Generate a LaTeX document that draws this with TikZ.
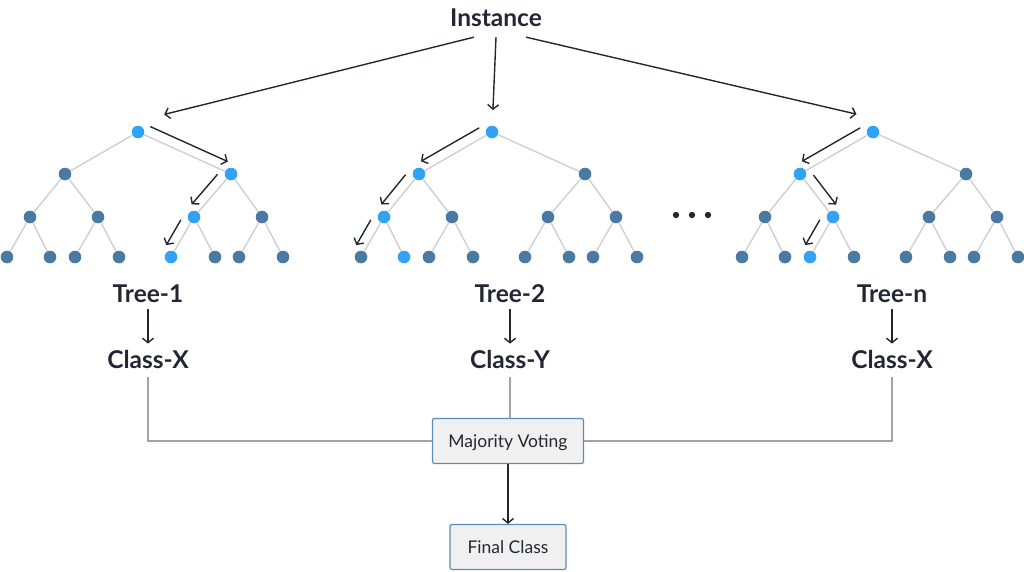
\documentclass[tikz,border=0pt]{standalone}
\usepackage{fontspec}
\setmainfont{Lato}
\usetikzlibrary{arrows.meta,calc,positioning}

\definecolor{hotblue}{HTML}{31A2F6}
\definecolor{nodeblue}{HTML}{4A79A4}
\definecolor{branchgray}{HTML}{CFCFCF}
\definecolor{ink}{HTML}{222733}
\definecolor{wiregray}{HTML}{A0A4A8}
\definecolor{frameblue}{HTML}{5B8DB8}
\definecolor{paper}{HTML}{F0F0F0}

\begin{document}
\begin{tikzpicture}[x=1pt, y=-1pt, node distance=65pt, on grid,
    >={Straight Barb[length=4.5pt,width=11pt]},
    dot/.style={circle, fill=nodeblue, inner sep=0pt, minimum size=12.6pt},
    hot/.style={fill=hotblue},
    % the nodes on the path of each tree
    hot 1r/.style=hot, hot 1b/.style=hot, hot 1ba/.style=hot, hot 1baa/.style=hot,
    hot 2r/.style=hot, hot 2a/.style=hot, hot 2aa/.style=hot, hot 2aab/.style=hot,
    hot 3r/.style=hot, hot 3a/.style=hot, hot 3ab/.style=hot, hot 3aba/.style=hot,
    branch/.style={draw=branchgray, line width=1.4pt},
    walk/.style={->, draw=ink, line width=1.4pt},
    wire/.style={draw=wiregray, line width=1.3pt},
    title/.style={font=\fontsize{24.5}{28}\selectfont\bfseries, text=ink, inner xsep=0pt, inner ysep=6pt},
    vote/.style={draw=frameblue, fill=paper, line width=1.2pt, rounded corners=2pt,
        font=\fontsize{17.5}{20}\selectfont, text=ink, minimum height=45pt,
        inner xsep=0pt, text height=15.6pt, text depth=3pt}]
    \useasboundingbox (0,0) rectangle (1024,571);

    % three trees
    \foreach \t/\x in {1/138, 2/492, 3/873} {
        \foreach \n/\dx/\y in {r/0/132, a/-73/174, b/93/174,
                aa/-108/217, ab/-40/217, ba/56/217, bb/124/217,
                aaa/-131/257, aab/-88/257, aba/-63/257, abb/-19/257,
                baa/33/257, bab/77/257, bba/101/257, bbb/145/257}
            \node[dot, hot \t\n/.try] (\t\n) at (\x+\dx, \y) {};
        \foreach \p/\c in {r/a, r/b, a/aa, a/ab, b/ba, b/bb, aa/aaa, aa/aab,
                ab/aba, ab/abb, ba/baa, ba/bab, bb/bba, bb/bbb}
            \path[branch] (\t\p) -- (\t\c);
    }
    \foreach \dx in {676, 692, 708}
        \fill[ink] (\dx,215) circle (3.2pt);

    % paths through the trees
    \draw[walk, shorten <=9pt, shorten >=8pt] ($(1r)!10pt!90:(1b)$) -- ($(1b)!10pt!-90:(1r)$);
    \draw[walk, shorten <=9pt, shorten >=8pt] ($(1b)!10pt!-90:(1ba)$) -- ($(1ba)!10pt!90:(1b)$);
    \draw[walk, shorten <=9pt, shorten >=8pt] ($(1ba)!10pt!-90:(1baa)$) -- ($(1baa)!10pt!90:(1ba)$);
    \draw[walk, shorten <=9pt, shorten >=8pt] ($(2r)!10pt!-90:(2a)$) -- ($(2a)!10pt!90:(2r)$);
    \draw[walk, shorten <=9pt, shorten >=8pt] ($(2a)!10pt!-90:(2aa)$) -- ($(2aa)!10pt!90:(2a)$);
    \draw[walk, shorten <=9pt, shorten >=8pt] ($(2aa)!10pt!-90:(2aaa)$) -- ($(2aaa)!10pt!90:(2aa)$);
    \draw[walk, shorten <=9pt, shorten >=8pt] ($(3r)!10pt!-90:(3a)$) -- ($(3a)!10pt!90:(3r)$);
    \draw[walk, shorten <=9pt, shorten >=8pt] ($(3a)!10pt!90:(3ab)$) -- ($(3ab)!10pt!-90:(3a)$);
    \draw[walk, shorten <=9pt, shorten >=8pt] ($(3ab)!10pt!-90:(3aba)$) -- ($(3aba)!10pt!90:(3ab)$);

    \node[title, inner ysep=10pt] (inst) at (496,18) {Instance};
    \node[title] (t1) at (148,294) {Tree-1};
    \node[title, below=of t1] (c1) {Class-X};
    \node[title] (t2) at (510,294) {Tree-2};
    \node[title, below=of t2] (c2) {Class-Y};
    \node[title] (t3) at (892,294) {Tree-n};
    \node[title, below=of t3] (c3) {Class-X};
    \node[vote, minimum width=151pt] (mv) at (508,441) {Majority Voting};
    \node[vote, minimum width=116pt, below=106pt of mv] (fc) {Final Class};

    \draw[walk, shorten >=27pt] ([xshift=-22pt]inst.south) -- ([yshift=11pt]1r.center);
    \draw[walk, shorten >=22pt] (inst.south) -- (2r.center);
    \draw[walk, shorten >=17pt] ([xshift=30pt]inst.south) -- ([yshift=14pt]3r.center);

    \path[walk]
    (t1) edge (c1)
    (t2) edge (c2)
    (t3) edge (c3)
    (mv) edge (fc);

    \draw[wire, shorten <=3pt] (c1.south) |- (mv.west);
    \draw[wire, shorten <=3pt] (c2.south) -- (c2 |- mv.north);
    \draw[wire, shorten <=3pt] (c3.south) |- (mv.east);
\end{tikzpicture}
\end{document}
